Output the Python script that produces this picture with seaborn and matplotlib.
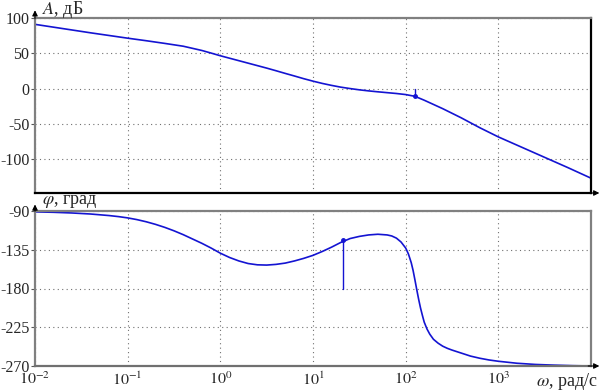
import numpy as np
import pandas as pd
import matplotlib
matplotlib.use("Agg")
import matplotlib.pyplot as plt
import seaborn as sns

# ---- data ----
amp_logw = [-2.0, -1.8, -1.6, -1.4, -1.2, -1.0, -0.8, -0.6, -0.4, -0.3, -0.2, -0.1, 0.0, 0.1, 0.2, 0.3,
            0.4, 0.5, 0.6, 0.7, 0.8, 0.9, 1.0, 1.1, 1.2, 1.3, 1.4, 1.5, 1.6, 1.7, 1.8, 1.9, 2.0, 2.1,
            2.2, 2.3, 2.4, 2.5, 2.6, 2.7, 2.8, 2.9, 3.0, 3.25, 3.5, 3.75, 4.0]
amp_db = [91, 87, 83, 79, 75.2, 71.4, 67.8, 64, 60, 57, 54, 50.3, 46.5, 43, 39.5, 36,
          32.5, 29, 25.3, 21.5, 17.8, 14, 10.5, 7.3, 4.5, 2, 0, -1.8, -3.3, -4.6, -5.8, -7, -8.5, -11,
          -16.5, -22.5, -28.5, -35, -41.5, -48.5, -55.5, -62, -68.5, -83, -97.5, -112, -127]

ph_logw = [-2.0, -1.8, -1.6, -1.4, -1.2, -1.1, -1.0, -0.9, -0.8, -0.7, -0.6, -0.5, -0.4, -0.3, -0.2, -0.1,
           0.0, 0.1, 0.2, 0.3, 0.4, 0.5, 0.6, 0.7, 0.8, 0.9, 1.0, 1.1, 1.2, 1.3, 1.4, 1.5, 1.6, 1.7,
           1.8, 1.85, 1.9, 1.95, 2.0, 2.03, 2.06, 2.08, 2.1, 2.12, 2.14, 2.16, 2.18, 2.2, 2.23, 2.26, 2.3, 2.35,
           2.4, 2.45, 2.5, 2.6, 2.7, 2.8, 2.9, 3.0, 3.2, 3.4, 3.6, 3.8, 4.0]
ph_deg = [-91, -91.5, -92.3, -93.5, -95.3, -96.5, -98, -100, -102.5, -105.5, -109, -113, -117.5, -122.5, -127.5, -133,
          -139, -144, -148, -151, -152.5, -152.8, -152, -150.5, -148, -145, -141.5, -137, -132, -126.5, -122, -119.5, -117.8, -117,
          -117.8, -119, -121.5, -126, -133, -140, -150, -159, -170, -181.5, -192.5, -202.5, -211, -219, -227, -233, -239, -243.5,
          -247, -249.5, -251.5, -255, -258.5, -261, -263, -264.5, -266.8, -268.2, -269, -269.6, -270]

amp_mark_logw = 2.1   # crossover frequency marker
amp_mark_db = -11
ph_mark_logw = 1.32   # phase marker
ph_mark_deg = -124

xtick_exp = [-2, -1, 0, 1, 2, 3]
amp_ticks = [100, 50, 0, -50, -100]
ph_ticks = [-90, -135, -180, -225, -270]

# ---- style ----
sns.set_theme(style="white")
plt.rcParams['font.family'] = ['Liberation Serif', 'DejaVu Serif']
plt.rcParams['mathtext.fontset'] = 'stix'
plt.rcParams['axes.unicode_minus'] = False

W, H = 601, 392
fig = plt.figure(figsize=(W / 100, H / 100), dpi=100)

def axbox(l, t, r, b):
    return [l / W, 1 - b / H, (r - l) / W, (b - t) / H]

ax1 = fig.add_axes(axbox(35, 18, 591, 193))
ax2 = fig.add_axes(axbox(35, 211, 591, 366))

blue = '#1414d2'
df_a = pd.DataFrame({'w': 10.0 ** np.array(amp_logw), 'A': amp_db})
df_p = pd.DataFrame({'w': 10.0 ** np.array(ph_logw), 'phi': ph_deg})

sns.lineplot(data=df_a, x='w', y='A', ax=ax1, color=blue, lw=1.2, sort=False)
sns.lineplot(data=df_p, x='w', y='phi', ax=ax2, color=blue, lw=1.2, sort=False)

# markers
wa = 10 ** amp_mark_logw
ax1.plot([wa, wa], [0, amp_mark_db], color=blue, lw=1.0)
ax1.plot([wa], [amp_mark_db], marker='o', ms=2.5, color=blue)
wp = 10 ** ph_mark_logw
ax2.plot([wp, wp], [-180, ph_mark_deg], color=blue, lw=1.0)
ax2.plot([wp], [ph_mark_deg], marker='o', ms=2.5, color=blue)

grid_kw = dict(color='#707070', ls=(0, (1, 3)), lw=0.8)
for ax, yt, ylim in [(ax1, amp_ticks, (-148, 100)), (ax2, ph_ticks, (-270, -90))]:
    ax.set_xscale('log')
    ax.set_xlim(1e-2, 1e4)
    ax.set_ylim(*ylim)
    ax.set_yticks(yt)
    ax.set_yticklabels([str(v) for v in yt], fontsize=11.5)
    ax.set_xticks([10.0 ** e for e in xtick_exp])
    ax.xaxis.set_minor_locator(matplotlib.ticker.NullLocator())
    ax.set_xlabel('')
    ax.set_ylabel('')
    ax.grid(True, which='major', **grid_kw)
    ax.tick_params(axis='y', length=3, width=0.8, color='#555555', pad=1, left=True)
    ax.tick_params(axis='x', length=0, pad=4)
    for s in ['left', 'top', 'right']:
        ax.spines[s].set_color('#808080')
        ax.spines[s].set_linewidth(1.6)
    ax.spines['bottom'].set_linewidth(1.6)
    # arrows
    ax.annotate('', xy=(0, 1.06), xycoords='axes fraction', xytext=(0, 0.98),
                arrowprops=dict(arrowstyle='-|>', color='black', lw=0.8, mutation_scale=8), annotation_clip=False)
    ax.annotate('', xy=(1.02, 0), xycoords='axes fraction', xytext=(0.99, 0),
                arrowprops=dict(arrowstyle='-|>', color='black', lw=0.8, mutation_scale=8), annotation_clip=False)

ax1.spines['bottom'].set_color('black')
ax1.spines['right'].set_color('black')
ax2.spines['bottom'].set_color('#707070')
ax1.set_xticklabels([])
ax2.set_xticklabels(['$10^{%d}$' % e for e in xtick_exp], fontsize=11.5)

fig.text(42 / W, 1 - 9 / H, r'$\mathit{A}$, дБ', fontsize=13, ha='left', va='center')
fig.text(42 / W, 1 - 202 / H, r'$\varphi$, град', fontsize=13, ha='left', va='center')
fig.text(598 / W, 1 - 381 / H, r'$\omega$, рад/с', fontsize=13, ha='right', va='center')

fig.savefig('out.png', dpi=100)
